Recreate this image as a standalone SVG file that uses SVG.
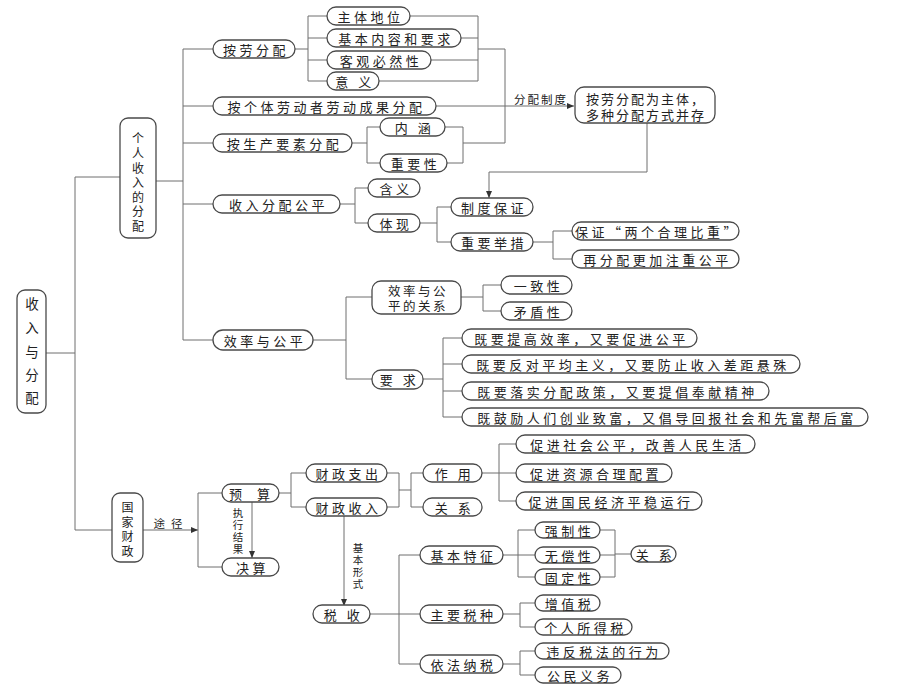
<svg xmlns="http://www.w3.org/2000/svg" width="920" height="690" viewBox="0 0 920 690">
<style>
.b{fill:#fff;stroke:#4a4a4a;stroke-width:1.3}
text{font-family:"Noto Sans CJK SC","Noto Sans CJK JP",sans-serif;font-size:13px;fill:#222;letter-spacing:3.5px;text-anchor:middle;dominant-baseline:central}
.v{letter-spacing:0;font-size:12px}
.s{font-size:11.5px;letter-spacing:2px}
.sv{font-size:10.5px;letter-spacing:0}
#conn path{fill:none;stroke:#6e6e6e;stroke-width:1}
</style>
<defs>
<marker id="ar" markerWidth="8" markerHeight="8" refX="7" refY="4" orient="auto" markerUnits="userSpaceOnUse">
<path d="M0,1 L7,4 L0,7 Z" fill="#333"/>
</marker>
</defs>
<rect width="920" height="690" fill="#fff"/>
<g id="conn">
<path d="M46,353 H75 M75,177 V530 M75,177 H120 M75,530 H112"/>
<path d="M156,181 H183 M183,49 V340 M183,49 H213 M183,106 H213 M183,143 H213 M183,204 H213 M183,340 H213"/>
<path d="M295,49 H308 M308,16 V81 M308,16 H327 M308,38 H327 M308,60 H327 M308,81 H327"/>
<path d="M410,16 H478 M461,38 H478 M431,60 H478 M379,81 H478 M478,16 V81 M478,49 H505 V143 H463"/>
<path d="M352,143 H367 M367,127 V163 M367,127 H380 M367,163 H380 M445,127 H463 M447,163 H463 M463,127 V163"/>
<path d="M436,106 H574" marker-end="url(#ar)"/>
<path d="M647,123 V172 H489 V198" marker-end="url(#ar)"/>
<path d="M340,204 H355 M355,188 V223 M355,188 H368 M355,223 H368"/>
<path d="M420,223 H437 M437,207 V242 M437,207 H451 M437,242 H451"/>
<path d="M533,242 H553 M553,231 V259 M553,231 H572 M553,259 H572"/>
<path d="M313,340 H346 M346,297 V379 M346,297 H372 M346,379 H372"/>
<path d="M461,297 H483 M483,285 V311 M483,285 H501 M483,311 H501"/>
<path d="M423,379 H443 M443,338 V417 M443,338 H462 M443,364 H462 M443,391 H462 M443,417 H462"/>
<path d="M143,530 H198" marker-end="url(#ar)"/>
<path d="M198,493 V567 M198,493 H222 M198,567 H222"/>
<path d="M252,502 V558" marker-end="url(#ar)"/>
<path d="M279,493 H291 M291,473 V507 M291,473 H306 M291,507 H306"/>
<path d="M387,473 H399 M387,507 H399 M399,473 V507 M399,490 H411 M411,473 V507 M411,473 H423 M411,507 H423"/>
<path d="M482,473 H499 M499,444 V501 M499,444 H516 M499,473 H516 M499,501 H516"/>
<path d="M344,516 V606" marker-end="url(#ar)"/>
<path d="M370,614 H399 M399,555 V664 M399,555 H420 M399,614 H420 M399,664 H420"/>
<path d="M503,555 H518 M518,530 V577 M518,530 H535 M518,555 H535 M518,577 H535"/>
<path d="M600,530 H615 M600,555 H615 M600,577 H615 M615,530 V577 M615,554 H631"/>
<path d="M503,614 H520 M520,603 V627 M520,603 H535 M520,627 H535"/>
<path d="M503,664 H520 M520,651 V675 M520,651 H535 M520,675 H535"/>
<text class="s" x="541" y="99">分配制度</text>
<text class="s" x="171" y="523" style="letter-spacing:6px">途径</text>
<text class="sv"><tspan x="238" y="512">执</tspan><tspan x="238" y="524">行</tspan><tspan x="238" y="536">结</tspan><tspan x="238" y="548">果</tspan></text>
<text class="sv"><tspan x="358" y="547">基</tspan><tspan x="358" y="559">本</tspan><tspan x="358" y="571">形</tspan><tspan x="358" y="583">式</tspan></text>
</g>
<g id="root"><rect class="b" x="17" y="290" width="29" height="123" rx="8"/><text class="v" style="font-size:13.5px"><tspan x="32" y="303">收</tspan><tspan x="32" y="327">入</tspan><tspan x="32" y="351">与</tspan><tspan x="32" y="374">分</tspan><tspan x="32" y="397">配</tspan></text></g>
<g id="geren"><rect class="b" x="120" y="118" width="36" height="120" rx="8"/><text class="v"><tspan x="138" y="137">个</tspan><tspan x="138" y="152">人</tspan><tspan x="138" y="166.5">收</tspan><tspan x="138" y="181">入</tspan><tspan x="138" y="195.5">的</tspan><tspan x="138" y="210">分</tspan><tspan x="138" y="224.5">配</tspan></text></g>
<g id="guojia"><rect class="b" x="112" y="493" width="31" height="69" rx="8"/><text class="v"><tspan x="127.5" y="506">国</tspan><tspan x="127.5" y="520.5">家</tspan><tspan x="127.5" y="535">财</tspan><tspan x="127.5" y="549.5">政</tspan></text></g>
<g id="anlao"><rect class="b" x="213" y="40" width="82" height="18" rx="9"/><text x="256" y="49">按劳分配</text></g>
<g id="zhuti"><rect class="b" x="327" y="7" width="83" height="18" rx="9"/><text x="370.5" y="16">主体地位</text></g>
<g id="jiben"><rect class="b" x="327" y="29" width="134" height="18" rx="9"/><text x="396" y="38">基本内容和要求</text></g>
<g id="keguan"><rect class="b" x="327" y="51" width="104" height="18" rx="9"/><text x="381" y="60">客观必然性</text></g>
<g id="yiyi"><rect class="b" x="327" y="72" width="52" height="18" rx="9"/><text x="355" y="81">意 义</text></g>
<g id="geti"><rect class="b" x="213" y="97" width="223" height="18" rx="9"/><text x="326.5" y="106">按个体劳动者劳动成果分配</text></g>
<g id="shengchan"><rect class="b" x="213" y="134" width="139" height="18" rx="9"/><text x="284.5" y="143">按生产要素分配</text></g>
<g id="neihan"><rect class="b" x="380" y="118" width="65" height="18" rx="9"/><text x="414.5" y="127">内 涵</text></g>
<g id="zhongyao"><rect class="b" x="380" y="154" width="67" height="18" rx="9"/><text x="415.5" y="163">重要性</text></g>
<g id="zhidu"><rect class="b" x="575" y="87" width="140" height="36" rx="9"/><text x="646" y="98.5" style="letter-spacing:2px">按劳分配为主体，</text><text x="646" y="114" style="letter-spacing:2px">多种分配方式并存</text></g>
<g id="shouru"><rect class="b" x="213" y="195" width="127" height="18" rx="9"/><text x="278.5" y="204">收入分配公平</text></g>
<g id="hanyi"><rect class="b" x="368" y="179" width="52" height="18" rx="9"/><text x="396" y="188">含义</text></g>
<g id="tixian"><rect class="b" x="368" y="214" width="52" height="18" rx="9"/><text x="396" y="223">体现</text></g>
<g id="zdbz"><rect class="b" x="451" y="198" width="82" height="18" rx="9"/><text x="494" y="207">制度保证</text></g>
<g id="zyjc"><rect class="b" x="451" y="233" width="82" height="18" rx="9"/><text x="494" y="242">重要举措</text></g>
<g id="baozheng"><rect class="b" x="572" y="222" width="167" height="18" rx="9"/><text x="657.5" y="231">保证“两个合理比重”</text></g>
<g id="zaifenpei"><rect class="b" x="572" y="250" width="167" height="18" rx="9"/><text x="657.5" y="259">再分配更加注重公平</text></g>
<g id="xiaolv"><rect class="b" x="213" y="330" width="100" height="20" rx="10"/><text x="265" y="340">效率与公平</text></g>
<g id="guanxi1"><rect class="b" x="372" y="281" width="89" height="33" rx="9"/><text x="418" y="290.5" style="letter-spacing:2.5px;font-size:12.5px">效率与公</text><text x="418" y="305" style="letter-spacing:2.5px;font-size:12.5px">平的关系</text></g>
<g id="yaoqiu"><rect class="b" x="372" y="370" width="51" height="19" rx="9"/><text x="399.5" y="379">要 求</text></g>
<g id="yizhi"><rect class="b" x="501" y="276" width="71" height="18" rx="9"/><text x="538.5" y="285">一致性</text></g>
<g id="maodun"><rect class="b" x="501" y="302" width="71" height="18" rx="9"/><text x="538.5" y="311">矛盾性</text></g>
<g id="r1"><rect class="b" x="462" y="329" width="235" height="18" rx="9"/><text x="581.5" y="338">既要提高效率，又要促进公平</text></g>
<g id="r2"><rect class="b" x="462" y="355" width="338" height="18" rx="9"/><text x="633" y="364">既要反对平均主义，又要防止收入差距悬殊</text></g>
<g id="r3"><rect class="b" x="462" y="382" width="307" height="18" rx="9"/><text x="617.5" y="391">既要落实分配政策，又要提倡奉献精神</text></g>
<g id="r4"><rect class="b" x="462" y="408" width="406" height="18" rx="9"/><text x="667" y="417">既鼓励人们创业致富，又倡导回报社会和先富帮后富</text></g>
<g id="yusuan"><rect class="b" x="222" y="484" width="57" height="18" rx="9"/><text x="252.5" y="493" style="letter-spacing:6px">预 算</text></g>
<g id="juesuan"><rect class="b" x="222" y="558" width="57" height="18" rx="9"/><text x="252.5" y="567">决算</text></g>
<g id="zhichu"><rect class="b" x="306" y="464" width="81" height="18" rx="9"/><text x="348.5" y="473">财政支出</text></g>
<g id="shouru2"><rect class="b" x="306" y="498" width="81" height="18" rx="9"/><text x="348.5" y="507">财政收入</text></g>
<g id="zuoyong"><rect class="b" x="423" y="464" width="59" height="18" rx="9"/><text x="454.5" y="473">作 用</text></g>
<g id="guanxi2"><rect class="b" x="423" y="498" width="59" height="18" rx="9"/><text x="454.5" y="507">关 系</text></g>
<g id="cj1"><rect class="b" x="516" y="435" width="239" height="18" rx="9"/><text x="637.5" y="444">促进社会公平，改善人民生活</text></g>
<g id="cj2"><rect class="b" x="516" y="464" width="156" height="18" rx="9"/><text x="596" y="473">促进资源合理配置</text></g>
<g id="cj3"><rect class="b" x="516" y="492" width="186" height="18" rx="9"/><text x="611" y="501">促进国民经济平稳运行</text></g>
<g id="shuishou"><rect class="b" x="313" y="605" width="57" height="18" rx="9"/><text x="343.5" y="614">税 收</text></g>
<g id="tezheng"><rect class="b" x="420" y="546" width="83" height="18" rx="9"/><text x="463.5" y="555">基本特征</text></g>
<g id="shuizhong"><rect class="b" x="420" y="605" width="83" height="18" rx="9"/><text x="463.5" y="614">主要税种</text></g>
<g id="nashui"><rect class="b" x="420" y="655" width="83" height="18" rx="9"/><text x="463.5" y="664">依法纳税</text></g>
<g id="qiangzhi"><rect class="b" x="535" y="522" width="65" height="16" rx="8"/><text x="569.5" y="530">强制性</text></g>
<g id="wuchang"><rect class="b" x="535" y="547" width="65" height="16" rx="8"/><text x="569.5" y="555">无偿性</text></g>
<g id="guding"><rect class="b" x="535" y="569" width="65" height="16" rx="8"/><text x="569.5" y="577">固定性</text></g>
<g id="guanxi3"><rect class="b" x="631" y="546" width="45" height="16" rx="8"/><text x="655.5" y="554">关 系</text></g>
<g id="zengzhi"><rect class="b" x="535" y="595" width="65" height="16" rx="8"/><text x="569.5" y="603">增值税</text></g>
<g id="geren2"><rect class="b" x="535" y="619" width="97" height="16" rx="8"/><text x="585.5" y="627">个人所得税</text></g>
<g id="weifan"><rect class="b" x="535" y="643" width="134" height="16" rx="8"/><text x="604" y="651">违反税法的行为</text></g>
<g id="yiwu"><rect class="b" x="535" y="667" width="86" height="16" rx="8"/><text x="580" y="675">公民义务</text></g>
</svg>
